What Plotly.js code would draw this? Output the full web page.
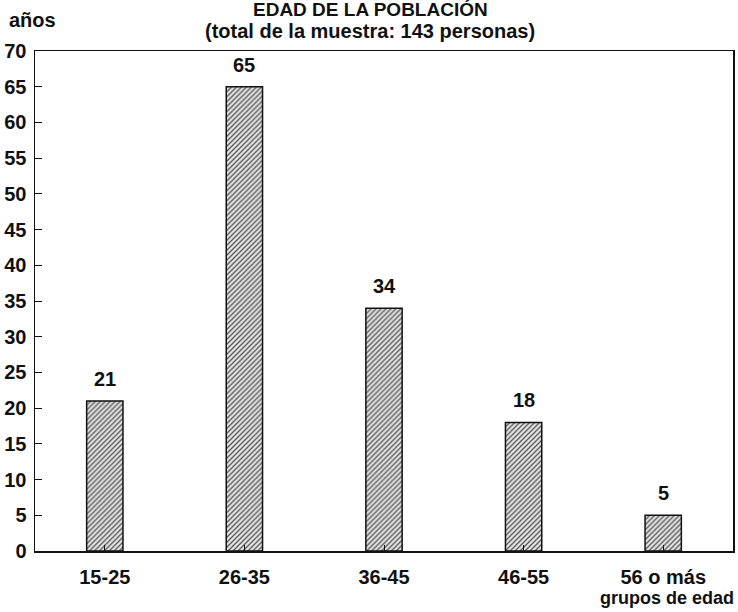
<!DOCTYPE html>
<html><head><meta charset="utf-8">
<script src="https://cdn.plot.ly/plotly-3.0.1.min.js"></script>
<style>body{margin:0;background:#fff}#c{width:738px;height:612px}</style>
</head><body><div id="c"></div>
<script>
const categories = ["15-25", "26-35", "36-45", "46-55", "56 o más"];
const values = [21, 65, 34, 18, 5];
const yTicks = [0, 5, 10, 15, 20, 25, 30, 35, 40, 45, 50, 55, 60, 65, 70];

const F = "Liberation Sans, Arial, sans-serif";
const ink = "#111";

const trace = {
  type: "bar",
  x: categories,
  y: values,
  width: 0.26,
  marker: {
    color: "#d4d4d4",
    line: {color: ink, width: 1.5},
    pattern: {shape: "/", fgcolor: "#555555", bgcolor: "#e6e6e6", size: 3.5, solidity: 0.38}
  },
  hoverinfo: "skip"
};

const valueLabels = categories.map((c, i) => ({
  x: c, y: values[i], xref: "x", yref: "y", text: String(values[i]),
  showarrow: false, yanchor: "bottom", yshift: 9,
  font: {family: F, size: 20, color: ink, weight: "bold"}
}));

const layout = {
  width: 738, height: 612,
  margin: {l: 35, r: 5, t: 51, b: 61},
  paper_bgcolor: "#fff", plot_bgcolor: "#fff",
  showlegend: false,
  font: {family: F, color: ink},
  xaxis: {
    range: [-0.5, 4.5],
    showline: true, linecolor: ink, linewidth: 1.5, mirror: true,
    ticks: "inside", ticklen: 6, tickcolor: ink, tickwidth: 1,
    ticklabelstandoff: 7,
    tickfont: {family: F, size: 20, color: ink, weight: "bold"},
    showgrid: false, zeroline: false, fixedrange: true
  },
  yaxis: {
    range: [0, 70],
    tickvals: yTicks, ticktext: yTicks.map(String),
    showline: true, linecolor: ink, linewidth: 1.5, mirror: true,
    ticks: "inside", ticklen: 7, tickcolor: ink, tickwidth: 1,
    ticklabelstandoff: 3,
    tickfont: {family: F, size: 20, color: ink, weight: "bold"},
    showgrid: false, zeroline: false, fixedrange: true
  },
  annotations: valueLabels.concat([
    {xref: "paper", yref: "paper", x: 0.48, y: 1, yshift: 51 - 9, xanchor: "center", yanchor: "middle",
     text: "EDAD DE LA POBLACIÓN", showarrow: false,
     font: {family: F, size: 19, color: ink, weight: "bold"}},
    {xref: "paper", yref: "paper", x: 0.48, y: 1, yshift: 51 - 31, xanchor: "center", yanchor: "middle",
     text: "(total de la muestra: 143 personas)", showarrow: false,
     font: {family: F, size: 20, color: ink, weight: "bold"}},
    {xref: "paper", yref: "paper", x: 0, y: 1, xshift: -28, yshift: 51 - 20, xanchor: "left", yanchor: "middle",
     text: "años", showarrow: false,
     font: {family: F, size: 20, color: ink, weight: "bold"}},
    {xref: "paper", yref: "paper", x: 1, y: 0, xshift: 3, yshift: -47, xanchor: "right", yanchor: "middle",
     text: "grupos de edad", showarrow: false,
     font: {family: F, size: 18, color: ink, weight: "bold"}}
  ])
};

Plotly.newPlot("c", [trace], layout, {displayModeBar: false, staticPlot: true});
</script></body></html>
